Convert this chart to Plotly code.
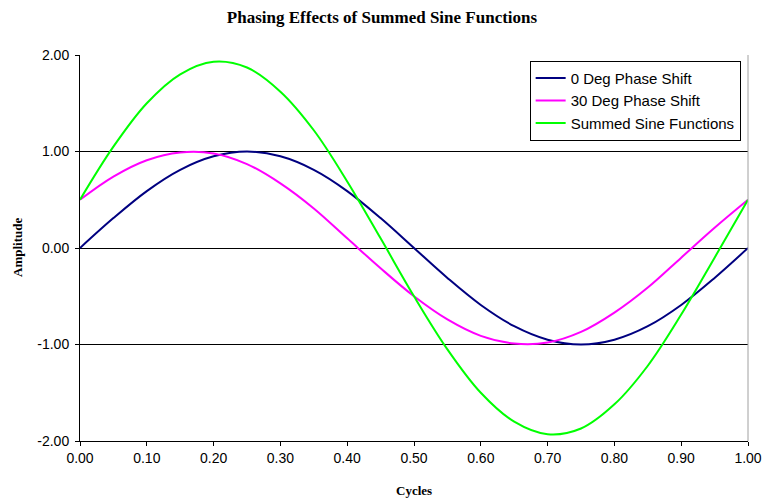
import plotly.graph_objects as go

cycles = [0.00, 0.05, 0.10, 0.15, 0.20, 0.25, 0.30, 0.35, 0.40, 0.45, 0.50,
          0.55, 0.60, 0.65, 0.70, 0.75, 0.80, 0.85, 0.90, 0.95, 1.00]
deg0 = [0.00, 0.31, 0.59, 0.81, 0.95, 1.00, 0.95, 0.81, 0.59, 0.31, 0.00,
        -0.31, -0.59, -0.81, -0.95, -1.00, -0.95, -0.81, -0.59, -0.31, 0.00]
deg30 = [0.50, 0.74, 0.91, 0.99, 0.98, 0.87, 0.67, 0.41, 0.10, -0.21, -0.50,
         -0.74, -0.91, -0.99, -0.98, -0.87, -0.67, -0.41, -0.10, 0.21, 0.50]
summed = [0.50, 1.05, 1.50, 1.80, 1.93, 1.87, 1.62, 1.22, 0.69, 0.10, -0.50,
          -1.05, -1.50, -1.80, -1.93, -1.87, -1.62, -1.22, -0.69, -0.10, 0.50]

x_ticks = [0.0, 0.1, 0.2, 0.3, 0.4, 0.5, 0.6, 0.7, 0.8, 0.9, 1.0]
x_tick_labels = ["0.00", "0.10", "0.20", "0.30", "0.40", "0.50", "0.60", "0.70", "0.80", "0.90", "1.00"]
y_ticks = [-2, -1, 0, 1, 2]
y_tick_labels = ["-2.00", "-1.00", "0.00", "1.00", "2.00"]

series = [
    ("0 Deg Phase Shift", deg0, "#000080"),
    ("30 Deg Phase Shift", deg30, "#ff00ff"),
    ("Summed Sine Functions", summed, "#00ff00"),
]

fig = go.Figure()
for name, vals, color in series:
    fig.add_trace(go.Scatter(x=cycles, y=vals, name=name, mode="lines",
                             line=dict(color=color, width=2, shape="spline")))

fig.update_layout(
    width=764, height=501,
    margin=dict(l=80, r=16, t=55, b=60),
    paper_bgcolor="white", plot_bgcolor="white",
    title=dict(text="<b>Phasing Effects of Summed Sine Functions</b>",
               x=0.5, xanchor="center", y=0.966, yanchor="middle",
               font=dict(family="Liberation Serif", size=17, color="black")),
    font=dict(family="Liberation Sans", size=14, color="black"),
    showlegend=True,
    legend=dict(x=0.989, y=0.985, xanchor="right", yanchor="top",
                bordercolor="black", borderwidth=1, bgcolor="white",
                font=dict(family="Liberation Sans", size=15),
                tracegroupgap=0, itemwidth=30),
    xaxis=dict(range=[0, 1], tickvals=x_ticks, ticktext=x_tick_labels,
               automargin=False,
               showgrid=False, zeroline=False, showline=True, linecolor="black",
               linewidth=1, ticks="outside", ticklen=4, tickcolor="black"),
    yaxis=dict(range=[-2, 2], tickvals=y_ticks, ticktext=y_tick_labels,
               automargin=False, ticklabelstandoff=3,
               showgrid=True, gridcolor="black", gridwidth=1, zeroline=False,
               showline=True, linecolor="black", linewidth=1,
               ticks="outside", ticklen=4, tickcolor="black"),
    annotations=[
        dict(text="<b>Cycles</b>", xref="paper", yref="paper", x=0.5, y=-49/386,
             xanchor="center", yanchor="middle", showarrow=False,
             font=dict(family="Liberation Serif", size=13)),
        dict(text="<b>Amplitude</b>", xref="paper", yref="paper", x=-63/668, y=0.5,
             xanchor="center", yanchor="middle", showarrow=False, textangle=-90,
             font=dict(family="Liberation Serif", size=13)),
    ],
    shapes=[
        dict(type="line", xref="paper", yref="paper", x0=1, x1=1, y0=0, y1=1,
             line=dict(color="#a0a0a0", width=1)),
    ],
)

fig.write_html("out.html")
